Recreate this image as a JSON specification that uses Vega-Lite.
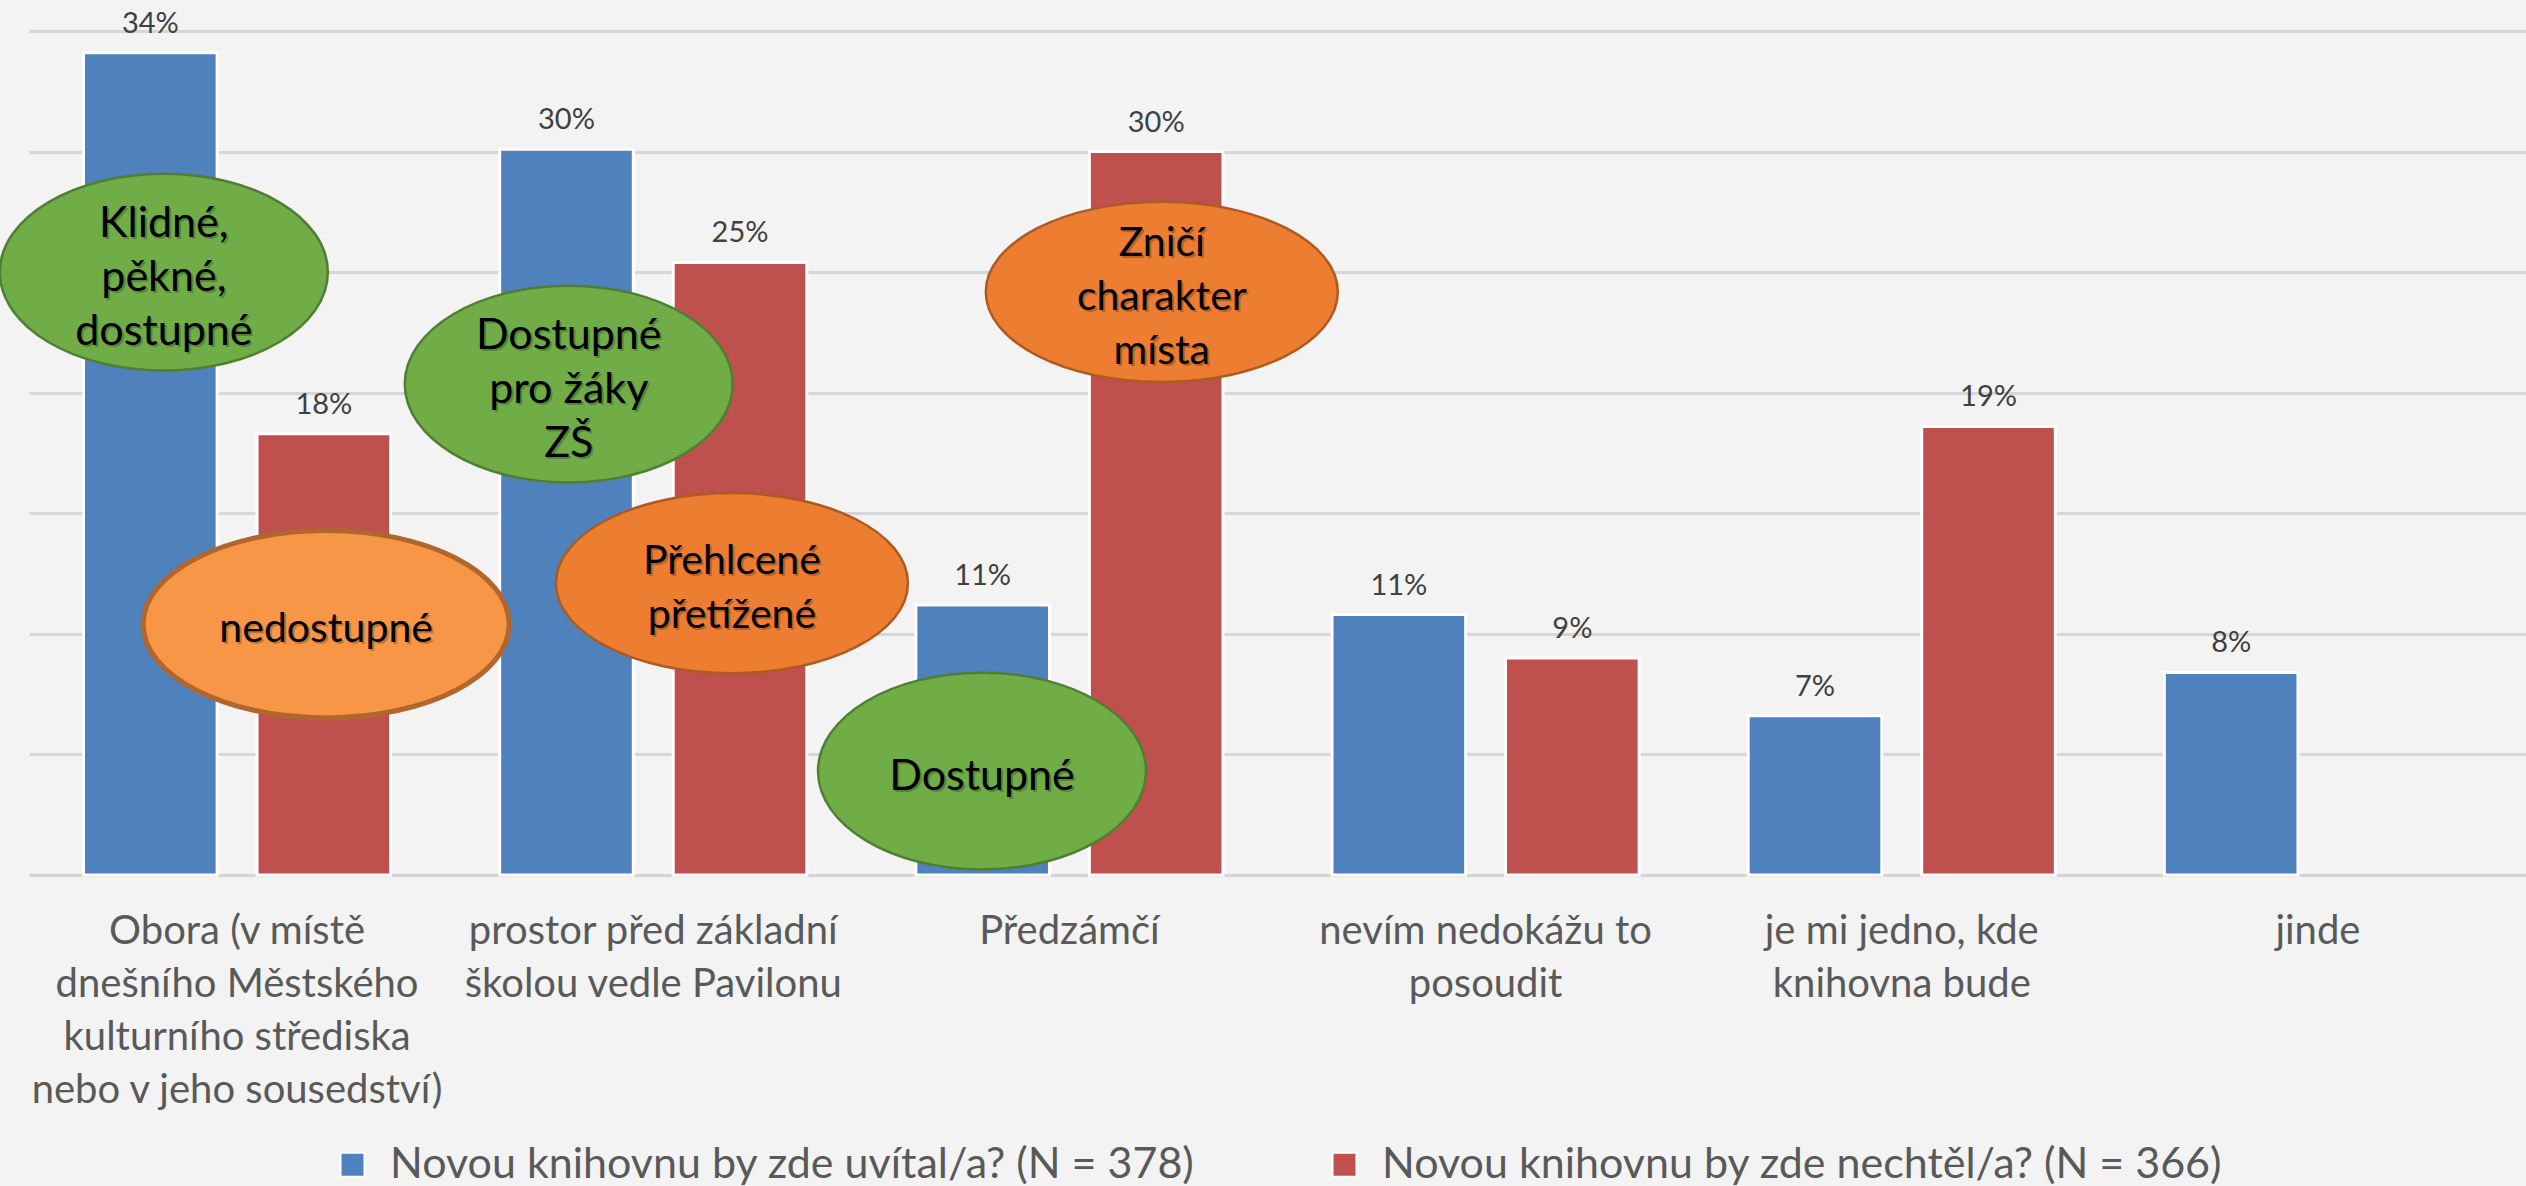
{
  "$schema": "https://vega.github.io/schema/vega-lite/v6.json",
  "width": 2497,
  "height": 844,
  "autosize": {"type": "none"},
  "padding": {"left": 29, "top": 31, "right": 0, "bottom": 311},
  "background": "#f3f3f3",
  "config": {"view": {"stroke": null}, "font": "Lato"},
  "datasets": {
    "bars": [
      {"misto": "Obora (v místě|dnešního Městského|kulturního střediska|nebo v jeho sousedství)", "odpoved": "Novou knihovnu by zde uvítal/a? (N = 378)", "podil": 0.341},
      {"misto": "Obora (v místě|dnešního Městského|kulturního střediska|nebo v jeho sousedství)", "odpoved": "Novou knihovnu by zde nechtěl/a? (N = 366)", "podil": 0.183},
      {"misto": "prostor před základní|školou vedle Pavilonu", "odpoved": "Novou knihovnu by zde uvítal/a? (N = 378)", "podil": 0.301},
      {"misto": "prostor před základní|školou vedle Pavilonu", "odpoved": "Novou knihovnu by zde nechtěl/a? (N = 366)", "podil": 0.254},
      {"misto": "Předzámčí", "odpoved": "Novou knihovnu by zde uvítal/a? (N = 378)", "podil": 0.112},
      {"misto": "Předzámčí", "odpoved": "Novou knihovnu by zde nechtěl/a? (N = 366)", "podil": 0.300},
      {"misto": "nevím nedokážu to|posoudit", "odpoved": "Novou knihovnu by zde uvítal/a? (N = 378)", "podil": 0.108},
      {"misto": "nevím nedokážu to|posoudit", "odpoved": "Novou knihovnu by zde nechtěl/a? (N = 366)", "podil": 0.090},
      {"misto": "je mi jedno, kde|knihovna bude", "odpoved": "Novou knihovnu by zde uvítal/a? (N = 378)", "podil": 0.066},
      {"misto": "je mi jedno, kde|knihovna bude", "odpoved": "Novou knihovnu by zde nechtěl/a? (N = 366)", "podil": 0.186},
      {"misto": "jinde", "odpoved": "Novou knihovnu by zde uvítal/a? (N = 378)", "podil": 0.084}
    ],
    "notes": [
      {"text": "Klidné,\npěkné,\ndostupné", "ton": "klad", "poz": 0.324, "uroven": 0.250},
      {"text": "Dostupné\npro žáky\nZŠ", "ton": "klad", "poz": 1.297, "uroven": 0.2036},
      {"text": "Dostupné", "ton": "klad", "poz": 2.290, "uroven": 0.0431},
      {"text": "nedostupné", "ton": "zapor", "poz": 0.714, "uroven": 0.104},
      {"text": "Přehlcené\npřetížené", "ton": "zapor", "poz": 1.689, "uroven": 0.121},
      {"text": "Zničí\ncharakter\nmísta", "ton": "zapor", "poz": 2.722, "uroven": 0.2418}
    ]
  },
  "layer": [
    {
      "data": {"name": "bars"},
      "layer": [
        {
          "mark": {"type": "bar", "stroke": "white", "strokeWidth": 3},
          "encoding": {
            "x": {
              "field": "misto", "type": "nominal", "sort": null,
              "scale": {"paddingInner": 0.262, "paddingOuter": 0.131},
              "axis": {
                "title": null, "domain": true, "domainColor": "#d4d4d4", "domainWidth": 3,
                "ticks": false, "tickSize": 0, "labelPadding": 36, "labelFontSize": 40,
                "labelColor": "#595959", "labelLineHeight": 53, "labelAngle": 0,
                "labelBaseline": "top", "labelLimit": 1000, "labelFont": "Lato",
                "labelExpr": "split(datum.label, '|')"
              }
            },
            "xOffset": {"field": "odpoved", "type": "nominal", "sort": null, "scale": {"paddingInner": 0.23, "paddingOuter": 0}},
            "y": {
              "field": "podil", "type": "quantitative",
              "scale": {"domain": [0, 0.35], "nice": false},
              "axis": {
                "title": null, "domain": false, "ticks": false, "labels": false,
                "grid": true, "gridColor": "#d6d6d6", "gridWidth": 3, "gridOpacity": 1,
                "values": [0.05, 0.1, 0.15, 0.2, 0.25, 0.3, 0.35]
              }
            },
            "color": {
              "field": "odpoved", "type": "nominal", "sort": null,
              "scale": {"range": ["#4f81bd", "#c0504d"]},
              "legend": {
                "title": null, "orient": "none", "legendX": 302, "legendY": 1112,
                "direction": "horizontal",
                "symbolType": "square", "symbolSize": 576, "symbolStrokeColor": "white",
                "symbolStrokeWidth": 2, "labelFontSize": 43, "labelColor": "#595959",
                "labelFont": "Lato", "labelOffset": 16, "columnPadding": 128, "labelLimit": 2000
              }
            }
          }
        },
        {
          "mark": {"type": "text", "dy": -20, "baseline": "alphabetic", "fontSize": 29, "color": "#404040", "font": "Lato"},
          "encoding": {
            "x": {"field": "misto", "type": "nominal", "sort": null},
            "xOffset": {"field": "odpoved", "type": "nominal", "sort": null},
            "y": {"field": "podil", "type": "quantitative"},
            "text": {"field": "podil", "type": "quantitative", "format": ".0%"}
          }
        }
      ]
    },
    {
      "data": {"name": "notes"},
      "transform": [{"calculate": "length(split(datum.text, '\\n'))", "as": "radky"}],
      "encoding": {
        "x": {"field": "poz", "type": "quantitative", "scale": {"domain": [0, 6], "nice": false, "zero": false}, "axis": null},
        "y": {"field": "uroven", "type": "quantitative", "scale": {"domain": [0, 0.35], "nice": false}, "axis": null}
      },
      "layer": [
        {
          "transform": [{"filter": "datum.ton === 'klad'"}],
          "mark": {"type": "point", "filled": true, "opacity": 1, "fill": "#70ad47", "stroke": "#507e32", "strokeWidth": 2.5, "size": 107584, "shape": "M-1,0A1,0.6,0,1,1,1,0A1,0.6,0,1,1,-1,0Z"}
        },
        {
          "transform": [{"filter": "datum.ton === 'zapor'"}],
          "mark": {"type": "point", "filled": true, "opacity": 1, "shape": "M-1,0A1,0.512,0,1,1,1,0A1,0.512,0,1,1,-1,0Z"},
          "encoding": {
            "fill": {"condition": {"test": "datum.text === 'nedostupné'", "value": "#f79646"}, "value": "#ed7d31"},
            "stroke": {"condition": {"test": "datum.text === 'nedostupné'", "value": "#b0662c"}, "value": "#ae5a21"},
            "strokeWidth": {"condition": {"test": "datum.text === 'nedostupné'", "value": 5}, "value": 2.5},
            "size": {"condition": {"test": "datum.text === 'nedostupné'", "value": 133956}, "value": 123904}
          }
        },
        {
          "transform": [{"filter": "datum.radky === 1"}],
          "mark": {"type": "text", "lineBreak": "\n", "baseline": "middle", "align": "center", "dx": 2, "dy": 8, "color": "#000000", "opacity": 0.22, "lineHeight": 54, "font": "Lato"},
          "encoding": {"text": {"field": "text"}, "size": {"condition": {"test": "datum.ton === 'klad'", "value": 43}, "value": 41}}
        },
        {
          "transform": [{"filter": "datum.radky === 1"}],
          "mark": {"type": "text", "lineBreak": "\n", "baseline": "middle", "align": "center", "dy": 6, "color": "#000000", "lineHeight": 54, "font": "Lato"},
          "encoding": {"text": {"field": "text"}, "size": {"condition": {"test": "datum.ton === 'klad'", "value": 43}, "value": 41}}
        },
        {
          "transform": [{"filter": "datum.radky === 2"}],
          "mark": {"type": "text", "lineBreak": "\n", "baseline": "middle", "align": "center", "dx": 2, "dy": -19, "color": "#000000", "opacity": 0.22, "lineHeight": 54, "font": "Lato"},
          "encoding": {"text": {"field": "text"}, "size": {"condition": {"test": "datum.ton === 'klad'", "value": 43}, "value": 41}}
        },
        {
          "transform": [{"filter": "datum.radky === 2"}],
          "mark": {"type": "text", "lineBreak": "\n", "baseline": "middle", "align": "center", "dy": -21, "color": "#000000", "lineHeight": 54, "font": "Lato"},
          "encoding": {"text": {"field": "text"}, "size": {"condition": {"test": "datum.ton === 'klad'", "value": 43}, "value": 41}}
        },
        {
          "transform": [{"filter": "datum.radky === 3"}],
          "mark": {"type": "text", "lineBreak": "\n", "baseline": "middle", "align": "center", "dx": 2, "dy": -46, "color": "#000000", "opacity": 0.22, "lineHeight": 54, "font": "Lato"},
          "encoding": {"text": {"field": "text"}, "size": {"condition": {"test": "datum.ton === 'klad'", "value": 43}, "value": 41}}
        },
        {
          "transform": [{"filter": "datum.radky === 3"}],
          "mark": {"type": "text", "lineBreak": "\n", "baseline": "middle", "align": "center", "dy": -48, "color": "#000000", "lineHeight": 54, "font": "Lato"},
          "encoding": {"text": {"field": "text"}, "size": {"condition": {"test": "datum.ton === 'klad'", "value": 43}, "value": 41}}
        }
      ]
    }
  ],
  "resolve": {"scale": {"x": "independent", "y": "independent"}}
}
